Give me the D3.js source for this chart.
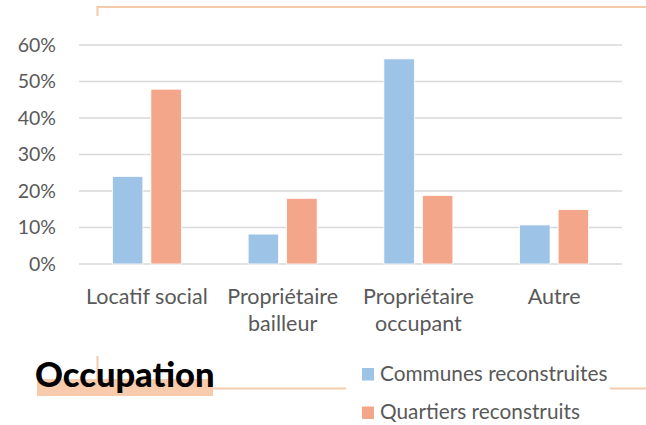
<!DOCTYPE html>
<html>
<head>
<meta charset="utf-8">
<script src="https://cdn.jsdelivr.net/npm/d3@7"></script>
<style>
  html, body { margin: 0; padding: 0; background: #fff; }
  svg { display: block; }
</style>
</head>
<body>
<div id="chart"></div>
<script>
// Occupation - bar chart data
const categories = ['Locatif social', 'Propriétaire\nbailleur', 'Propriétaire\noccupant', 'Autre'];
const seriesNames = ['Communes reconstruites', 'Quartiers reconstruits'];
const communes = [0.24, 0.082, 0.562, 0.107];
const quartiers = [0.479, 0.18, 0.188, 0.149];
const yTicks = [0, 0.1, 0.2, 0.3, 0.4, 0.5, 0.6];

const colors = ['#9DC3E6', '#F4A68B'];
const peach = '#F8CBAD';
const textColor = '#595959';
const font = 'Lato, "Open Sans", sans-serif';

const width = 646, height = 425;
const plot = { left: 79, right: 622, top: 45, bottom: 264 };

const svg = d3.select('#chart').append('svg')
  .attr('width', width)
  .attr('height', height);

// decorative slide lines
svg.append('path')
  .attr('d', 'M97.5,16 V7 H646')
  .attr('fill', 'none')
  .attr('stroke', peach)
  .attr('stroke-width', 2.2);

const x0 = d3.scaleBand()
  .domain(categories)
  .range([plot.left, plot.right]);

const x1 = d3.scaleBand()
  .domain(seriesNames)
  .range([0, x0.bandwidth()])
  .paddingInner(0.208)
  .paddingOuter(0.867);

const y = d3.scaleLinear()
  .domain([0, 0.6])
  .range([plot.bottom, plot.top]);

// gridlines
svg.append('g')
  .selectAll('line')
  .data(yTicks)
  .enter().append('line')
  .attr('x1', plot.left)
  .attr('x2', plot.right)
  .attr('y1', d => y(d))
  .attr('y2', d => y(d))
  .attr('stroke', '#D9D9D9')
  .attr('stroke-width', 1.5);

// y axis labels
const yAxis = svg.append('g')
  .attr('transform', `translate(${plot.left},0)`)
  .call(d3.axisLeft(y).tickValues(yTicks).tickFormat(d3.format('.0%')).tickSize(0).tickPadding(23));
yAxis.select('.domain').remove();
yAxis.selectAll('text')
  .attr('font-family', font)
  .attr('font-size', 19.5)
  .attr('fill', textColor);

// bars
const rows = categories.map((c, i) => ({ cat: c, values: [communes[i], quartiers[i]] }));

const groups = svg.append('g')
  .selectAll('g')
  .data(rows)
  .enter().append('g')
  .attr('transform', d => `translate(${x0(d.cat)},0)`);

groups.selectAll('rect')
  .data(d => d.values.map((v, j) => ({ name: seriesNames[j], value: v, j })))
  .enter().append('rect')
  .attr('x', d => x1(d.name))
  .attr('y', d => y(d.value))
  .attr('width', x1.bandwidth())
  .attr('height', d => y(0) - y(d.value))
  .attr('fill', d => colors[d.j])
  .attr('stroke', '#fff')
  .attr('stroke-width', 0.8);

// category labels
const xLabels = svg.append('g');
categories.forEach(c => {
  const lines = c.split('\n');
  const t = xLabels.append('text')
    .attr('x', x0(c) + x0.bandwidth() / 2)
    .attr('y', 303.5)
    .attr('text-anchor', 'middle')
    .attr('font-family', font)
    .attr('font-size', 21.5)
    .attr('fill', textColor);
  lines.forEach((l, i) => {
    t.append('tspan')
      .attr('x', x0(c) + x0.bandwidth() / 2)
      .attr('dy', i === 0 ? 0 : 27.5)
      .text(l);
  });
});

// title block
svg.append('line')
  .attr('x1', 97.5).attr('x2', 97.5)
  .attr('y1', 356).attr('y2', 380)
  .attr('stroke', peach).attr('stroke-width', 2);
svg.append('rect')
  .attr('x', 37).attr('y', 379)
  .attr('width', 176).attr('height', 17)
  .attr('fill', peach);
svg.append('line')
  .attr('x1', 213).attr('x2', 346)
  .attr('y1', 388.5).attr('y2', 388.5)
  .attr('stroke', peach).attr('stroke-width', 2);
svg.append('line')
  .attr('x1', 610).attr('x2', 646)
  .attr('y1', 388.5).attr('y2', 388.5)
  .attr('stroke', peach).attr('stroke-width', 2);
svg.append('text')
  .attr('x', 35)
  .attr('y', 387)
  .attr('font-family', font)
  .attr('font-weight', 900)
  .attr('font-size', 34.5)
  .attr('fill', '#000')
  .text('Occupation');

// legend
const legend = svg.append('g')
  .selectAll('g')
  .data(seriesNames)
  .enter().append('g')
  .attr('transform', (d, i) => `translate(362,${368 + i * 38.5})`);
legend.append('rect')
  .attr('width', 12)
  .attr('height', 12.5)
  .attr('fill', (d, i) => colors[i]);
legend.append('text')
  .attr('x', 18)
  .attr('y', 12.5)
  .attr('font-family', font)
  .attr('font-size', 20.8)
  .attr('fill', textColor)
  .text(d => d);
</script>
</body>
</html>
